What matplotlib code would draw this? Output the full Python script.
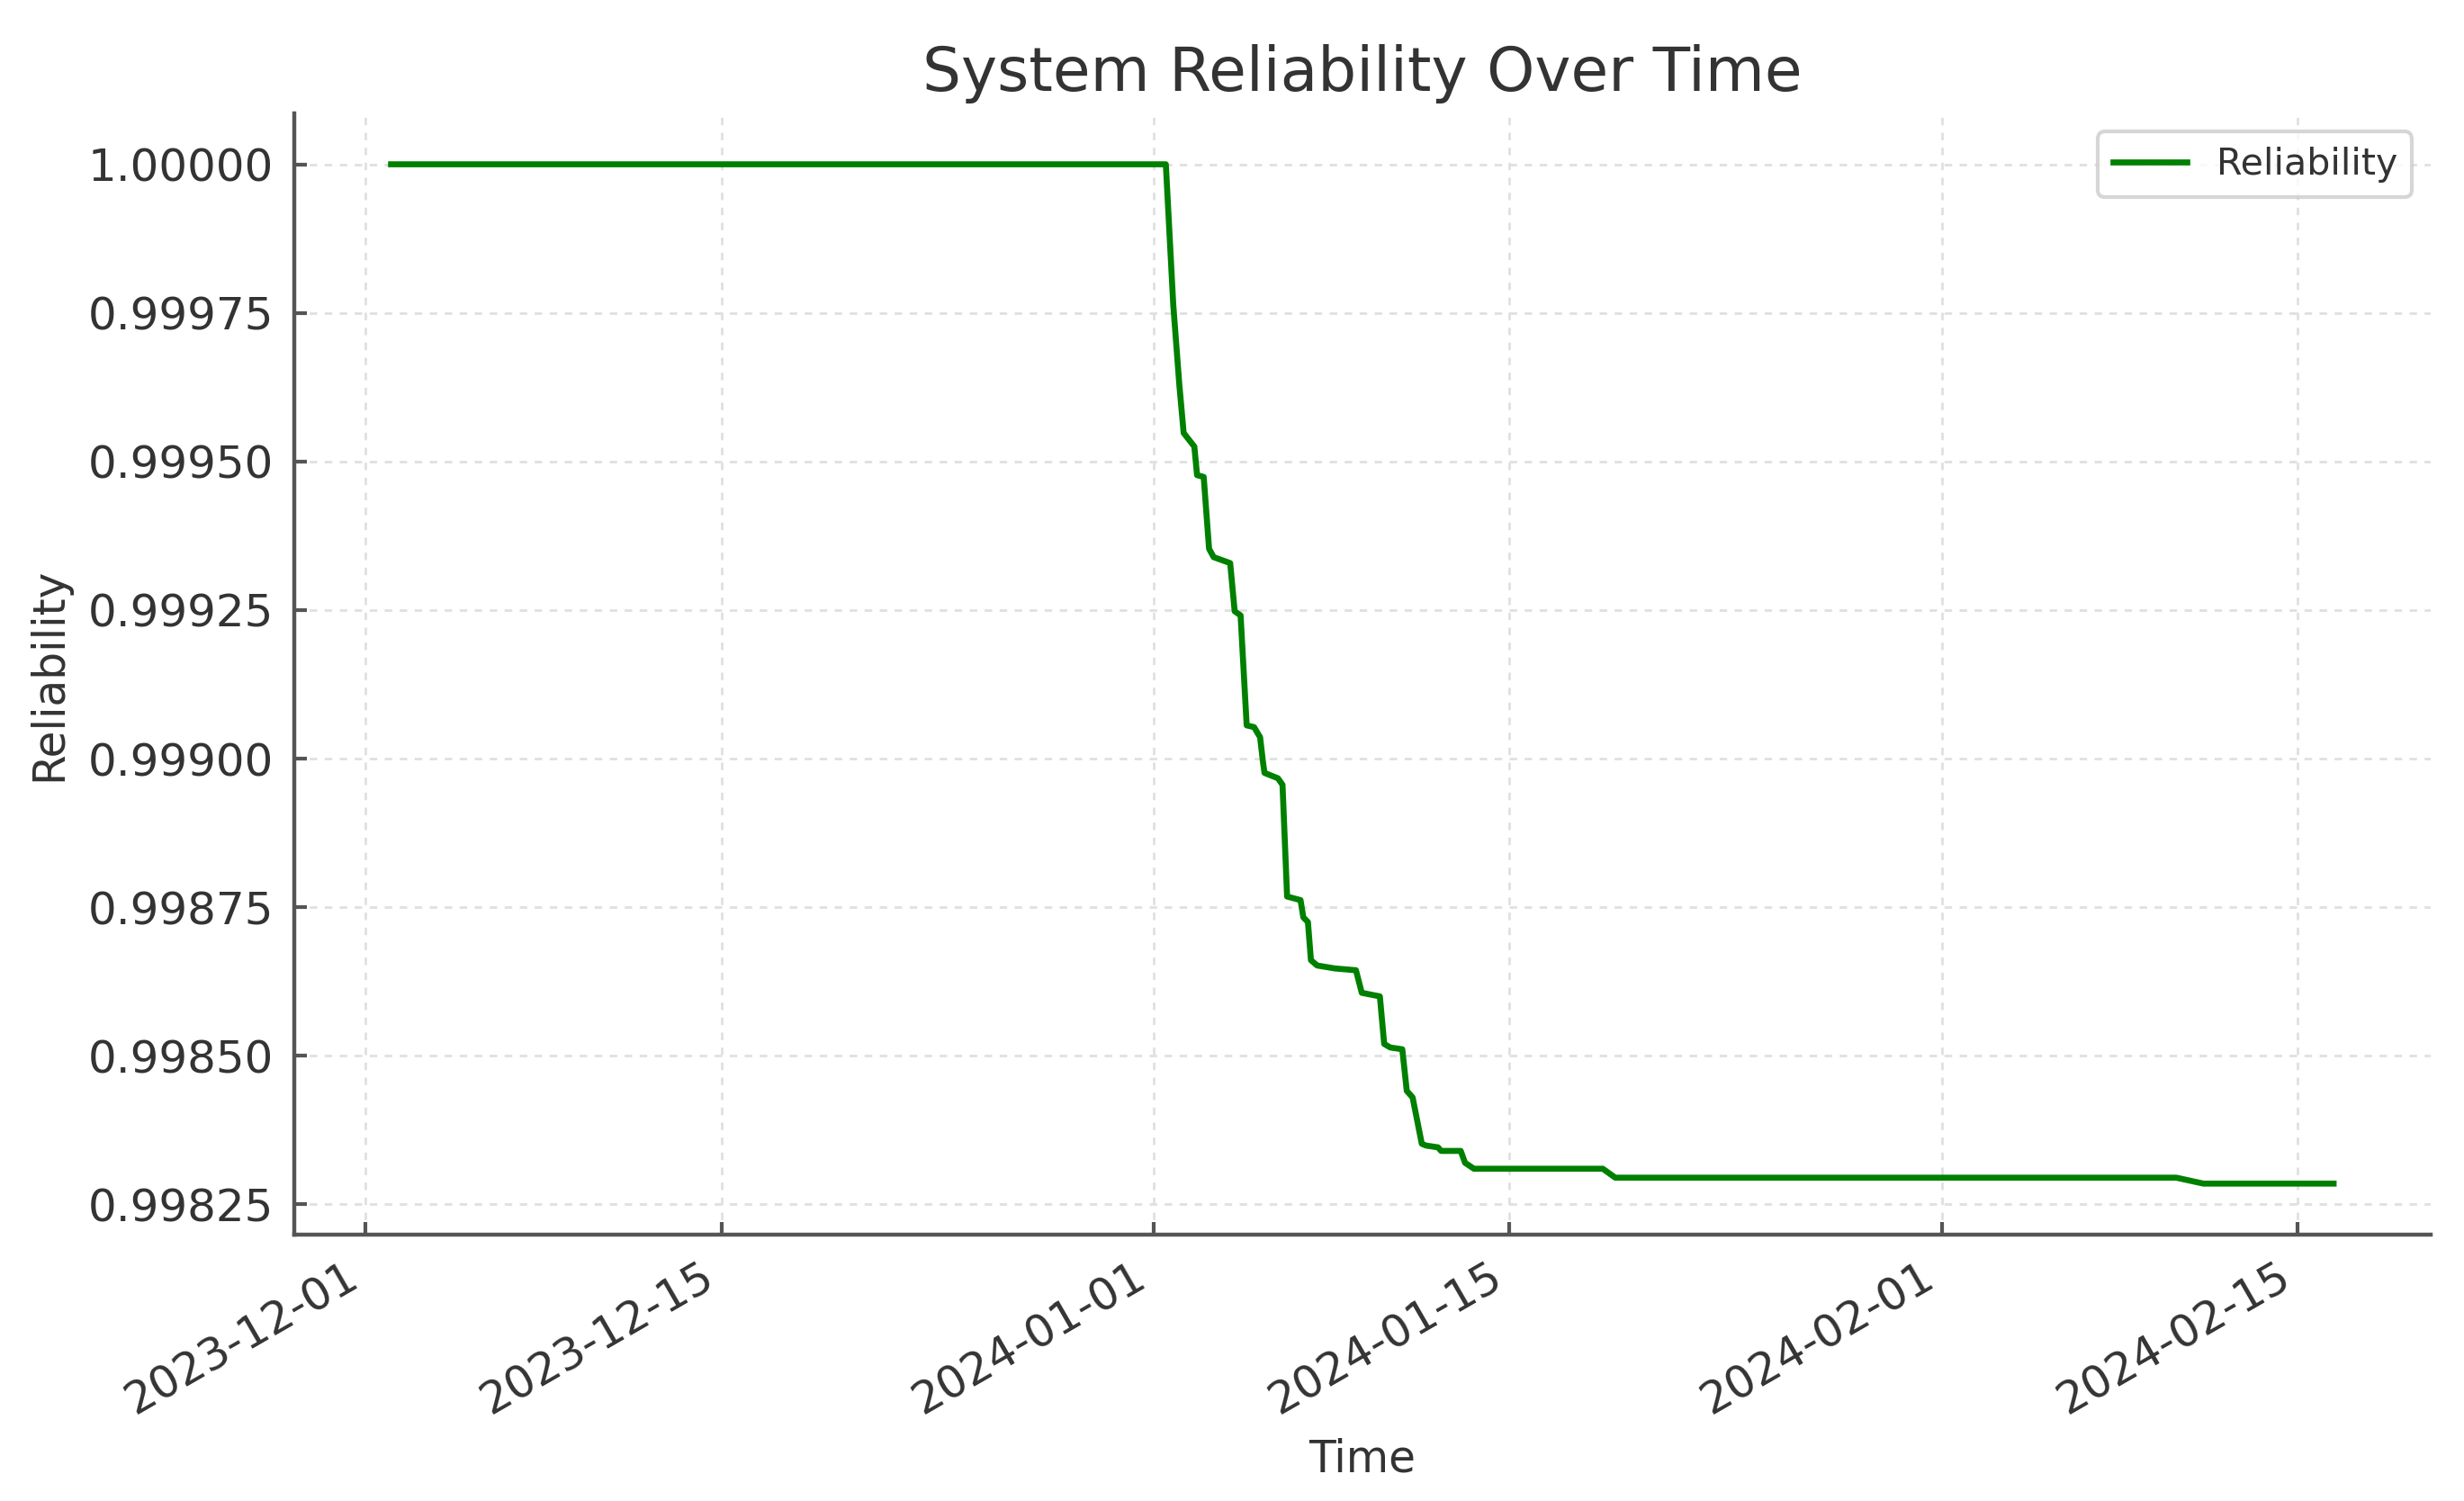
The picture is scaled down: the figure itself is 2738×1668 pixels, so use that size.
import matplotlib
matplotlib.use('Agg')
import matplotlib.pyplot as plt
import matplotlib.dates as mdates
from matplotlib.ticker import FormatStrFormatter
import pandas as pd

# values
times = [
    '2023-12-02 00:00', '2024-01-01 11:30', '2024-01-01 18:30', '2024-01-02 00:15',
    '2024-01-02 04:20', '2024-01-02 14:25', '2024-01-02 17:00', '2024-01-02 23:15',
    '2024-01-03 04:20', '2024-01-03 08:40', '2024-01-04 00:15', '2024-01-04 04:30',
    '2024-01-04 10:05', '2024-01-04 15:50', '2024-01-04 22:50', '2024-01-05 04:30',
    '2024-01-05 07:10', '2024-01-05 08:40', '2024-01-05 21:20', '2024-01-06 01:40',
    '2024-01-06 06:00', '2024-01-06 18:40', '2024-01-06 21:20', '2024-01-07 01:40',
    '2024-01-07 04:30', '2024-01-07 10:20', '2024-01-08 03:10', '2024-01-08 23:00',
    '2024-01-09 04:30', '2024-01-09 21:35', '2024-01-10 01:40', '2024-01-10 07:25',
    '2024-01-10 18:45', '2024-01-10 23:00', '2024-01-11 04:30', '2024-01-11 13:10',
    '2024-01-11 17:15', '2024-01-12 04:30', '2024-01-12 07:25', '2024-01-13 01:55',
    '2024-01-13 06:00', '2024-01-13 14:25', '2024-01-18 16:05', '2024-01-19 03:50',
    '2024-02-10 05:30', '2024-02-11 07:10', '2024-02-16 10:05',
]
reliability = [
    1.000000, 1.000000, 0.999764, 0.999629,
    0.999548, 0.999525, 0.999477, 0.999474,
    0.999353, 0.999339, 0.999329, 0.999248,
    0.999241, 0.999056, 0.999053, 0.999036,
    0.998995, 0.998976, 0.998967, 0.998956,
    0.998768, 0.998762, 0.998733, 0.998725,
    0.998661, 0.998652, 0.998647, 0.998644,
    0.998606, 0.998600, 0.998520, 0.998514,
    0.998511, 0.998441, 0.998430, 0.998352,
    0.998349, 0.998346, 0.998340, 0.998340,
    0.998320, 0.998310, 0.998310, 0.998295,
    0.998295, 0.998285, 0.998285,
]

dates = pd.to_datetime(times)
text_col = '#333333'
spine_col = '#555555'

fig = plt.figure(figsize=(13.69, 8.34), dpi=200)
ax = fig.add_axes([0.1193, 0.1775, 0.8672, 0.747])

ax.plot(dates, reliability, color='green', lw=2.4, label='Reliability')

ax.set_title('System Reliability Over Time', fontsize=24.4, color=text_col, pad=9)
ax.set_xlabel('Time', fontsize=17.5, color=text_col, labelpad=6)
ax.set_ylabel('Reliability', fontsize=17.5, color=text_col, labelpad=7)

ax.xaxis.set_major_locator(mdates.DayLocator(bymonthday=[1, 15]))
ax.xaxis.set_major_formatter(mdates.DateFormatter('%Y-%m-%d'))
ax.yaxis.set_major_formatter(FormatStrFormatter('%.5f'))

ax.tick_params(direction='in', length=5, width=1.5, color=spine_col,
               labelsize=18, labelcolor=text_col, pad=8)
for lbl in ax.get_xticklabels():
    lbl.set_rotation(30)
    lbl.set_ha('right')

for side in ['top', 'right']:
    ax.spines[side].set_visible(False)
for side in ['left', 'bottom']:
    ax.spines[side].set_color(spine_col)
    ax.spines[side].set_linewidth(1.6)

ax.grid(True, linestyle=(0, (3, 3)), color='#e0e0e0', lw=1)
ax.set_axisbelow(True)

leg = ax.legend(loc='upper right', fontsize=14.8, frameon=True, fancybox=True)
leg.get_frame().set_edgecolor('#cccccc')
leg.get_frame().set_linewidth(1.5)
for t in leg.get_texts():
    t.set_color(text_col)

fig.savefig('out.png', dpi=200)
